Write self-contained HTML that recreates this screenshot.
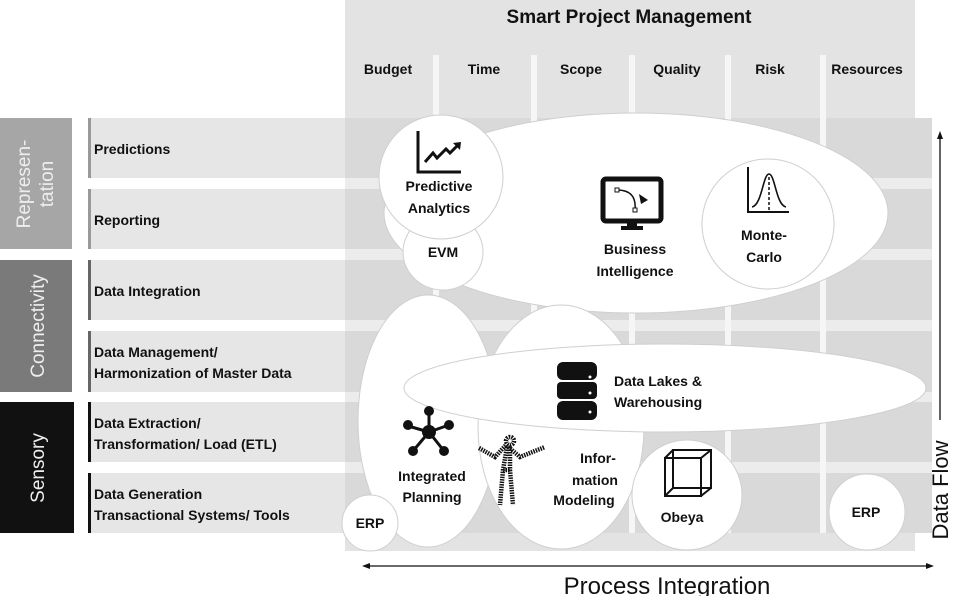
<!DOCTYPE html>
<html><head><meta charset="utf-8"><style>
html,body{margin:0;padding:0;background:#fff;width:960px;height:596px;overflow:hidden}
svg{display:block}
text{font-family:"Liberation Sans",sans-serif}
.b{font-weight:bold;font-size:14px;fill:#111}
.c{font-weight:bold;font-size:14px;fill:#111;text-anchor:middle}
.e{fill:#fff;stroke:#cfcfcf;stroke-width:1}
</style></head><body>
<svg width="960" height="596" viewBox="0 0 960 596" xmlns="http://www.w3.org/2000/svg">
<rect x="345" y="0" width="570" height="120" fill="#e3e3e3"/>
<g fill="#e6e6e6">
<rect x="88" y="118" width="260" height="60"/>
<rect x="88" y="189" width="260" height="60"/>
<rect x="88" y="260" width="260" height="60"/>
<rect x="88" y="331" width="260" height="61"/>
<rect x="88" y="402" width="260" height="60"/>
<rect x="88" y="473" width="260" height="60"/>
</g>
<rect x="345" y="118" width="587" height="415" fill="#ececec"/>
<g fill="#d9d9d9">
<rect x="345" y="118" width="587" height="60"/>
<rect x="345" y="189" width="587" height="60"/>
<rect x="345" y="260" width="587" height="60"/>
<rect x="345" y="331" width="587" height="61"/>
<rect x="345" y="402" width="587" height="60"/>
<rect x="345" y="473" width="587" height="60"/>
</g>
<g fill="#f6f6f6">
<rect x="433" y="55" width="6" height="480"/>
<rect x="531" y="55" width="6" height="480"/>
<rect x="629" y="55" width="6" height="480"/>
<rect x="725" y="55" width="6" height="480"/>
<rect x="820" y="55" width="6" height="480"/>
</g>
<rect x="345" y="533" width="570" height="18" fill="#e3e3e3"/>
<rect x="88" y="118" width="3" height="60" fill="#999"/>
<rect x="88" y="189" width="3" height="60" fill="#999"/>
<rect x="88" y="260" width="3" height="60" fill="#666"/>
<rect x="88" y="331" width="3" height="61" fill="#666"/>
<rect x="88" y="402" width="3" height="60" fill="#111"/>
<rect x="88" y="473" width="3" height="60" fill="#111"/>
<rect x="0" y="118" width="72" height="131" fill="#a6a6a6"/>
<rect x="0" y="260" width="72" height="132" fill="#7a7a7a"/>
<rect x="0" y="402" width="74" height="131" fill="#111"/>
<text transform="translate(30,184) rotate(-90)" text-anchor="middle" font-size="19" fill="#eee">Represen-</text>
<text transform="translate(53,184) rotate(-90)" text-anchor="middle" font-size="19" fill="#eee">tation</text>
<text transform="translate(44,326) rotate(-90)" text-anchor="middle" font-size="19" fill="#eee">Connectivity</text>
<text transform="translate(44,468) rotate(-90)" text-anchor="middle" font-size="19" fill="#eee">Sensory</text>
<text class="b" x="94" y="154">Predictions</text>
<text class="b" x="94" y="225">Reporting</text>
<text class="b" x="94" y="296">Data Integration</text>
<text class="b" x="94" y="357">Data Management/</text>
<text class="b" x="94" y="378">Harmonization  of Master Data</text>
<text class="b" x="94" y="428">Data Extraction/</text>
<text class="b" x="94" y="449">Transformation/  Load (ETL)</text>
<text class="b" x="94" y="499">Data Generation</text>
<text class="b" x="94" y="520">Transactional  Systems/ Tools</text>
<text x="629" y="23" text-anchor="middle" font-weight="bold" font-size="19" fill="#111">Smart Project Management</text>
<text class="c" x="388" y="74">Budget</text>
<text class="c" x="484" y="74">Time</text>
<text class="c" x="581" y="74">Scope</text>
<text class="c" x="677" y="74">Quality</text>
<text class="c" x="770" y="74">Risk</text>
<text class="c" x="867" y="74">Resources</text>
<ellipse class="e" cx="636" cy="213" rx="252" ry="100"/>
<ellipse class="e" cx="443" cy="252" rx="40" ry="38"/>
<circle class="e" cx="441" cy="177" r="62"/>
<ellipse class="e" cx="768" cy="224" rx="66" ry="65"/>
<ellipse class="e" cx="428" cy="421" rx="70" ry="126"/>
<ellipse class="e" cx="561" cy="427" rx="83" ry="122"/>
<ellipse class="e" cx="665" cy="388" rx="261" ry="44"/>
<ellipse class="e" cx="687" cy="495" rx="55" ry="55"/>
<circle class="e" cx="370" cy="523" r="28"/>
<circle class="e" cx="867" cy="512" r="38"/>
<path d="M418 131 V172 H461" stroke="#111" stroke-width="3" fill="none"/>
<path d="M425 162 L433 153 L437 158 L446 149 L450 153 L458 145" stroke="#111" stroke-width="3" fill="none"/>
<path d="M453 143 L461 142 L460 150 Z" fill="#111"/>
<text class="c" x="439" y="191">Predictive</text>
<text class="c" x="439" y="213">Analytics</text>
<text class="c" x="443" y="257">EVM</text>
<rect x="603" y="179" width="58" height="42" rx="3" fill="none" stroke="#111" stroke-width="5"/>
<rect x="627" y="221" width="10" height="5" fill="#111"/>
<rect x="621" y="226" width="22" height="4" fill="#111"/>
<path d="M617 190 Q637 190 635 210" stroke="#111" stroke-width="1.5" fill="none"/>
<rect x="615" y="188" width="4" height="4" fill="#fff" stroke="#111"/>
<rect x="633" y="208" width="4" height="4" fill="#fff" stroke="#111"/>
<path d="M639 194 L648 200 L641 204 Z" fill="#111"/>
<text class="c" x="635" y="254">Business</text>
<text class="c" x="635" y="276">Intelligence</text>
<path d="M748 167 V212 H789" stroke="#111" stroke-width="2" fill="none"/>
<path d="M752 207 C762 205 763 174 769 174 C775 174 776 205 786 207" stroke="#111" stroke-width="1.6" fill="none"/>
<path d="M769 177 V210" stroke="#111" stroke-width="1.5" stroke-dasharray="3 2"/>
<text class="c" x="764" y="240">Monte-</text>
<text class="c" x="764" y="262">Carlo</text>
<g fill="#111">
<rect x="557" y="362" width="40" height="18" rx="6"/>
<rect x="557" y="382" width="40" height="17" rx="4"/>
<rect x="557" y="401" width="40" height="19" rx="6"/>
</g>
<circle cx="590" cy="377" r="1.5" fill="#fff"/><circle cx="590" cy="393" r="1.5" fill="#fff"/><circle cx="590" cy="412" r="1.5" fill="#fff"/>
<text class="b" x="614" y="386">Data Lakes &amp;</text>
<text class="b" x="614" y="407">Warehousing</text>
<g stroke="#111" stroke-width="3"><path d="M429 432 L429 411 M429 432 L408 426 M429 432 L449 425 M429 432 L413 451 M429 432 L444 451"/></g>
<g fill="#111"><circle cx="429" cy="432" r="7"/><circle cx="429" cy="411" r="5"/><circle cx="408" cy="425" r="5"/><circle cx="449" cy="425" r="5"/><circle cx="413" cy="451" r="5"/><circle cx="444" cy="451" r="5"/></g>
<text class="c" x="432" y="481">Integrated</text>
<text class="c" x="432" y="502">Planning</text>
<g stroke="#111" stroke-width="4.5" stroke-dasharray="1.5 1" fill="none">
<path d="M479 448 L495 457 L506 445 L520 457 L545 447"/>
<path d="M507 447 L503 470 L500 505 M510 470 L513 505 M503 470 L510 470 M510 447 L510 470"/>
<circle cx="510" cy="441" r="4"/>
</g>
<text class="c" x="598" y="463">Infor-</text>
<text class="c" x="595" y="485">mation</text>
<text class="c" x="584" y="505">Modeling</text>
<g stroke="#111" stroke-width="2" fill="none">
<rect x="665" y="458" width="36" height="38"/>
<rect x="673" y="450" width="38" height="38"/>
<path d="M665 458 L673 450 M701 458 L711 450 M665 496 L673 488 M701 496 L711 488"/>
</g>
<text class="c" x="682" y="522">Obeya</text>
<text class="c" x="370" y="528">ERP</text>
<text class="c" x="866" y="517">ERP</text>
<path d="M368 566 H928" stroke="#111" stroke-width="1.3"/>
<path d="M362 566 L370 563 L370 569 Z" fill="#111"/>
<path d="M934 566 L926 563 L926 569 Z" fill="#111"/>
<text x="667" y="594" text-anchor="middle" font-size="24" fill="#111">Process Integration</text>
<path d="M940 138 V420" stroke="#111" stroke-width="1.3"/>
<path d="M940 131 L937 139 L943 139 Z" fill="#111"/>
<text transform="translate(948,490) rotate(-90)" text-anchor="middle" font-size="22" fill="#111">Data Flow</text>
</svg>
</body></html>
